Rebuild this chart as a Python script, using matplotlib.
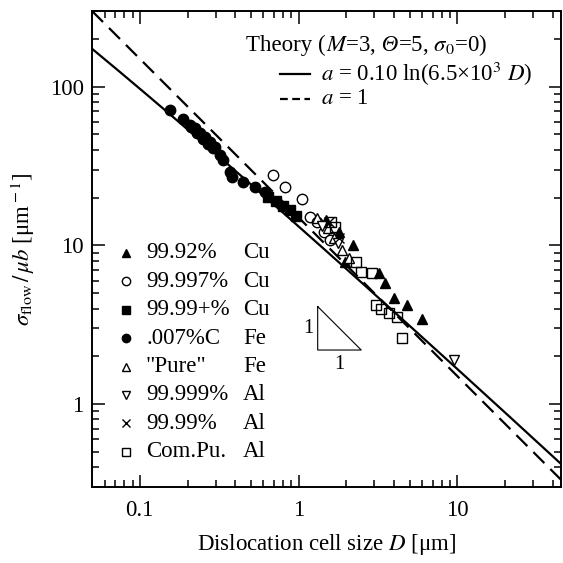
import numpy as np
import matplotlib
matplotlib.use("Agg")
import matplotlib.pyplot as plt
from matplotlib.ticker import FixedLocator, FixedFormatter, LogLocator, NullFormatter
from matplotlib.offsetbox import TextArea, HPacker, AnnotationBbox

plt.rcParams['font.family'] = ['Liberation Serif', 'DejaVu Serif']
plt.rcParams['mathtext.fontset'] = 'stix'
FS = 16.5

# ---------------- data ----------------
cu_9992_D = [1.48, 1.81, 2.19, 1.95, 3.19, 3.48, 4.02, 4.85, 6.03]
cu_9992_s = [14.5, 12.2, 10.1, 7.87, 6.71, 5.80, 4.67, 4.21, 3.44]

cu_99997_D = [0.686, 0.817, 1.044, 1.173, 1.316, 1.457, 1.567]
cu_99997_s = [27.9, 23.4, 19.7, 15.1, 14.1, 12.2, 10.8]

cu_9999p_D = [0.638, 0.72, 0.794, 0.878, 0.958]
cu_9999p_s = [20.2, 19.0, 17.8, 16.7, 15.4]

fe_007C_D = [0.1545, 0.1864, 0.2063, 0.2218, 0.2385, 0.2564, 0.2756, 0.2963,
             0.3185, 0.3327, 0.3681, 0.379, 0.4444, 0.5288, 0.6112,
             0.21, 0.23, 0.25, 0.27, 0.29]
fe_007C_s = [71.6, 62.8, 57.6, 55.1, 51.3, 48.4, 45.0, 41.8,
             37.2, 34.6, 29.1, 27.1, 25.2, 23.4, 21.8,
             55.5, 51.0, 47.0, 43.5, 41.0]

fe_pure_D = [1.316, 1.522, 1.684, 1.891, 2.093]
fe_pure_s = [14.9, 12.9, 11.2, 9.37, 8.34]

al_99999_D = [1.40, 1.776, 9.58]
al_99999_s = [13.2, 10.4, 1.90]

al_9999_D = [1.566, 1.81]
al_9999_s = [14.1, 11.1]

al_compu_D = [1.612, 1.70, 2.316, 2.490, 2.919, 3.095, 3.327, 3.736, 4.197, 4.509]
al_compu_s = [14.1, 13.0, 7.87, 6.80, 6.71, 4.21, 3.97, 3.75, 3.54, 2.61]

purity = ['99.92%', '99.997%', '99.99+%', '.007%C', '"Pure"', '99.999%', '99.99%', 'Com.Pu.']
metal = ['Cu', 'Cu', 'Cu', 'Fe', 'Fe', 'Al', 'Al', 'Al']

x_ticks = [0.1, 1, 10]
x_ticklabels = ['0.1', '1', '10']
y_ticks = [1, 10, 100]
y_ticklabels = ['1', '10', '100']

# theory parameters (from the legend)
M_ = 3
THETA = 5
SIGMA0 = 0
A_COEF = 0.10
A_FACT = 6.5e3

# ---------------- figure ----------------
W = H = 563
fig = plt.figure(figsize=(W / 100, H / 100), dpi=100)
ax = fig.add_axes([92 / W, 1 - 487 / H, 469 / W, 476 / H])
ax.set_xscale('log')
ax.set_yscale('log')
ax.set_xlim(0.05, 45)
ax.set_ylim(0.3, 300)

Dg = np.logspace(np.log10(0.05), np.log10(45), 300)
a_log = A_COEF * np.log(A_FACT * Dg)
ax.plot(Dg, SIGMA0 + M_ * THETA * a_log / Dg, color='black', lw=1.6, zorder=3)
ax.plot(Dg, SIGMA0 + M_ * THETA * 1.0 / Dg, color='black', lw=1.6,
        dashes=(7, 3.8), zorder=3)

ms = 7.5
series = [
    (cu_9992_D, cu_9992_s, dict(marker='^', mfc='black', mec='black')),
    (cu_99997_D, cu_99997_s, dict(marker='o', mfc='white', mec='black')),
    (cu_9999p_D, cu_9999p_s, dict(marker='s', mfc='black', mec='black')),
    (fe_007C_D, fe_007C_s, dict(marker='o', mfc='black', mec='black')),
    (fe_pure_D, fe_pure_s, dict(marker='^', mfc='white', mec='black')),
    (al_99999_D, al_99999_s, dict(marker='v', mfc='white', mec='black')),
    (al_9999_D, al_9999_s, dict(marker='x', mfc='black', mec='black')),
    (al_compu_D, al_compu_s, dict(marker='s', mfc='none', mec='black')),
]
for D, s, st in series:
    ax.plot(D, s, ls='none', ms=ms, mew=1.0, zorder=4, **st)

# slope triangle
tx0, ty0, tf = 1.32, 2.19, 1.88
ax.plot([tx0, tx0, tx0 * tf, tx0], [ty0 * tf, ty0, ty0, ty0 * tf],
        color='black', lw=0.8, zorder=2)
ax.text(tx0 / 1.06, ty0 * np.sqrt(tf), '1', ha='right', va='center', fontsize=FS - 2)
ax.text(tx0 * np.sqrt(tf), ty0 / 1.07, '1', ha='center', va='top', fontsize=FS - 2)

# axes styling
for sp in ax.spines.values():
    sp.set_linewidth(1.4)
ax.tick_params(which='both', direction='in', top=True, right=True, width=1.1)
ax.tick_params(which='major', length=9)
ax.tick_params(which='minor', length=5)
ax.tick_params(axis='x', which='major', pad=9, labelsize=FS)
ax.tick_params(axis='y', which='major', pad=6, labelsize=FS)
ax.xaxis.set_major_locator(FixedLocator(x_ticks))
ax.xaxis.set_major_formatter(FixedFormatter(x_ticklabels))
ax.yaxis.set_major_locator(FixedLocator(y_ticks))
ax.yaxis.set_major_formatter(FixedFormatter(y_ticklabels))
ax.xaxis.set_minor_locator(LogLocator(base=10, subs=np.arange(2, 10), numticks=20))
ax.yaxis.set_minor_locator(LogLocator(base=10, subs=np.arange(2, 10), numticks=20))
ax.xaxis.set_minor_formatter(NullFormatter())
ax.yaxis.set_minor_formatter(NullFormatter())

ax.set_xlabel(r'Dislocation cell size $D$ [μm]', fontsize=FS, labelpad=8)
ax.set_ylabel(r'$\sigma_{\rm flow}\,/\,\mu b$ [μm$^{\rm -1}$]', fontsize=FS, labelpad=9)


def fpos(px, py):
    return (px / W, 1 - py / H)


# marker legend (manual table)
row_y0, row_dy = 253, 28.4
for i, (p, m) in enumerate(zip(purity, metal)):
    y = row_y0 + i * row_dy
    st = series[i][2]
    fx, fy = fpos(126, y)
    fig.add_artist(plt.Line2D([fx], [fy], ls='none', ms=6, mew=1.0,
                              transform=fig.transFigure, **st))
    fig.text(*fpos(146, y), p, ha='left', va='center', fontsize=FS)
    fig.text(*fpos(243, y), m, ha='left', va='center', fontsize=FS)

# theory legend title with italic Theta
props = dict(fontsize=FS)
parts = [TextArea('Theory (', textprops=props),
         TextArea(r'$M$=3,', textprops=props),
         TextArea('\u00a0Θ', textprops=dict(fontsize=FS, style='italic')),
         TextArea(r'=5, $\sigma_0$=0)', textprops=props)]
pack = HPacker(children=parts, pad=0, sep=0, align='baseline')
ab = AnnotationBbox(pack, fpos(246, 45), xycoords='figure fraction',
                    box_alignment=(0, 0.5), frameon=False, pad=0)
fig.add_artist(ab)

for yy, dash, lab in [(74, None, r'$a$ = 0.10 ln(6.5×10$^3$ $D$)'),
                      (99, (3.5, 2.0), r'$a$ = 1')]:
    x0, y0 = fpos(280, yy)
    x1, _ = fpos(310, yy)
    ln = plt.Line2D([x0, x1], [y0, y0], color='black', lw=1.6,
                    transform=fig.transFigure)
    if dash:
        ln.set_dashes(dash)
    fig.add_artist(ln)
    fig.text(*fpos(321, yy), lab, ha='left', va='center', fontsize=FS)

fig.savefig('out.png', dpi=100)
